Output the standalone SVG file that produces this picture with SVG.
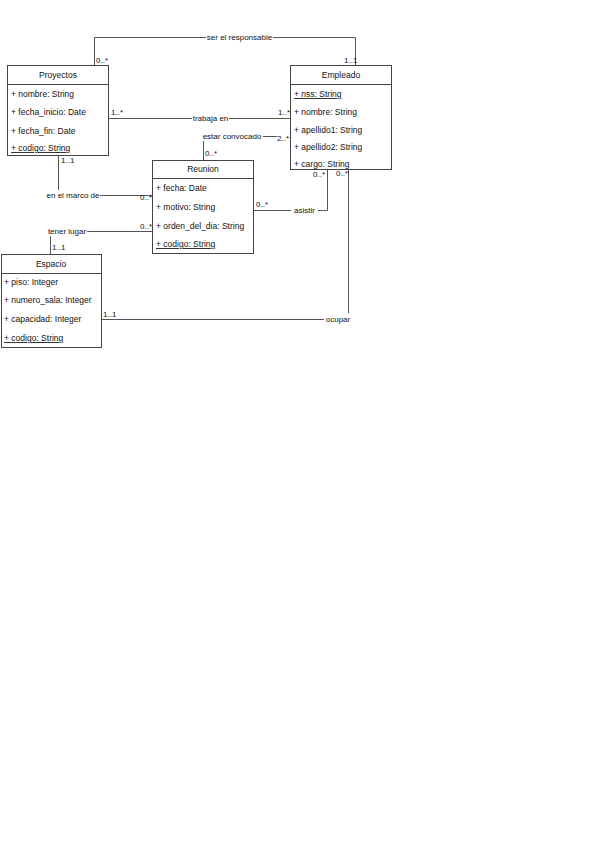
<svg xmlns="http://www.w3.org/2000/svg" width="600" height="848" viewBox="0 0 600 848">
<style>
text{font-family:"Liberation Sans",Arial,sans-serif;font-size:8px;fill:#111}
.t{text-anchor:middle}
.a{font-size:8.5px}
.h{font-size:8.5px}
.box{fill:#fff;stroke:#444;stroke-width:1}
.sep{stroke:#444;stroke-width:1}
.c{fill:none;stroke:#555;stroke-width:1}
.u{text-decoration:underline}
</style>
<rect width="600" height="848" fill="#fff"/>
<g id="connectors">
<polyline class="c" points="94.5,65 94.5,37.5 206,37.5"/>
<polyline class="c" points="273,37.5 355.5,37.5 355.5,65"/>
<line class="c" x1="109" y1="118.5" x2="192" y2="118.5"/>
<line class="c" x1="229" y1="118.5" x2="290" y2="118.5"/>
<line class="c" x1="263" y1="136.5" x2="277" y2="136.5"/>
<line class="c" x1="203.5" y1="141" x2="203.5" y2="160"/>
<line class="c" x1="58.5" y1="156" x2="58.5" y2="190"/>
<line class="c" x1="100" y1="195.5" x2="152" y2="195.5"/>
<line class="c" x1="87" y1="231.5" x2="152" y2="231.5"/>
<line class="c" x1="50.5" y1="236" x2="50.5" y2="254"/>
<line class="c" x1="254" y1="210.5" x2="291" y2="210.5"/>
<polyline class="c" points="318,210.5 327.5,210.5 327.5,170"/>
<line class="c" x1="101" y1="319.5" x2="324" y2="319.5"/>
<line class="c" x1="348.5" y1="170" x2="348.5" y2="313"/>
<text x="239.5" y="40" class="t">ser el responsable</text>
<text x="96" y="63">0..*</text>
<text x="344" y="63">1..1</text>
<text x="210.5" y="121" class="t">trabaja en</text>
<text x="111" y="115">1..*</text>
<text x="278" y="115">1..*</text>
<text x="232" y="139" class="t">estar convocado</text>
<text x="277" y="141">2..*</text>
<text x="205" y="156">0..*</text>
<text x="61" y="163">1..1</text>
<text x="73" y="198" class="t">en el marco de</text>
<text x="140" y="200">0..*</text>
<text x="67" y="234" class="t">tener lugar</text>
<text x="140" y="229">0..*</text>
<text x="52" y="250">1..1</text>
<text x="256" y="207">0..*</text>
<text x="304.5" y="213" class="t">asistir</text>
<text x="313" y="177">0..*</text>
<text x="336" y="176">0..*</text>
<text x="103" y="317">1..1</text>
<text x="338" y="322" class="t">ocupar</text>
</g>
<g id="Proyectos">
<rect class="box" x="7.5" y="65.5" width="101" height="90"/>
<line class="sep" x1="7.5" y1="84.5" x2="108.5" y2="84.5"/>
<text x="58" y="78" class="t h">Proyectos</text>
<text x="11" y="97" class="a">+ nombre: String</text>
<text x="11" y="115" class="a">+ fecha_inicio: Date</text>
<text x="11" y="134" class="a">+ fecha_fin: Date</text>
<text x="11" y="151" class="u a">+ codigo: String</text>
</g>
<g id="Empleado">
<rect class="box" x="290.5" y="65.5" width="101" height="104"/>
<line class="sep" x1="290.5" y1="84.5" x2="391.5" y2="84.5"/>
<text x="341" y="78" class="t h">Empleado</text>
<text x="294" y="97" class="u a">+ nss: String</text>
<text x="294" y="115" class="a">+ nombre: String</text>
<text x="294" y="133" class="a">+ apellido1: String</text>
<text x="294" y="150" class="a">+ apellido2: String</text>
<text x="294" y="167" class="a">+ cargo: String</text>
</g>
<g id="Reunion">
<rect class="box" x="152.5" y="160.5" width="101" height="93"/>
<line class="sep" x1="152.5" y1="178.5" x2="253.5" y2="178.5"/>
<text x="203" y="172" class="t h">Reunion</text>
<text x="156" y="191" class="a">+ fecha: Date</text>
<text x="156" y="210" class="a">+ motivo: String</text>
<text x="156" y="229" class="a">+ orden_del_dia: String</text>
<text x="156" y="247" class="u a">+ codigo: String</text>
</g>
<g id="Espacio">
<rect class="box" x="1.5" y="254.5" width="100" height="93"/>
<line class="sep" x1="1.5" y1="273.5" x2="101.5" y2="273.5"/>
<text x="51" y="267" class="t h">Espacio</text>
<text x="4" y="285" class="a">+ piso: Integer</text>
<text x="4" y="303" class="a">+ numero_sala: Integer</text>
<text x="4" y="322" class="a">+ capacidad: Integer</text>
<text x="4" y="341" class="u a">+ codigo: String</text>
</g>
</svg>
